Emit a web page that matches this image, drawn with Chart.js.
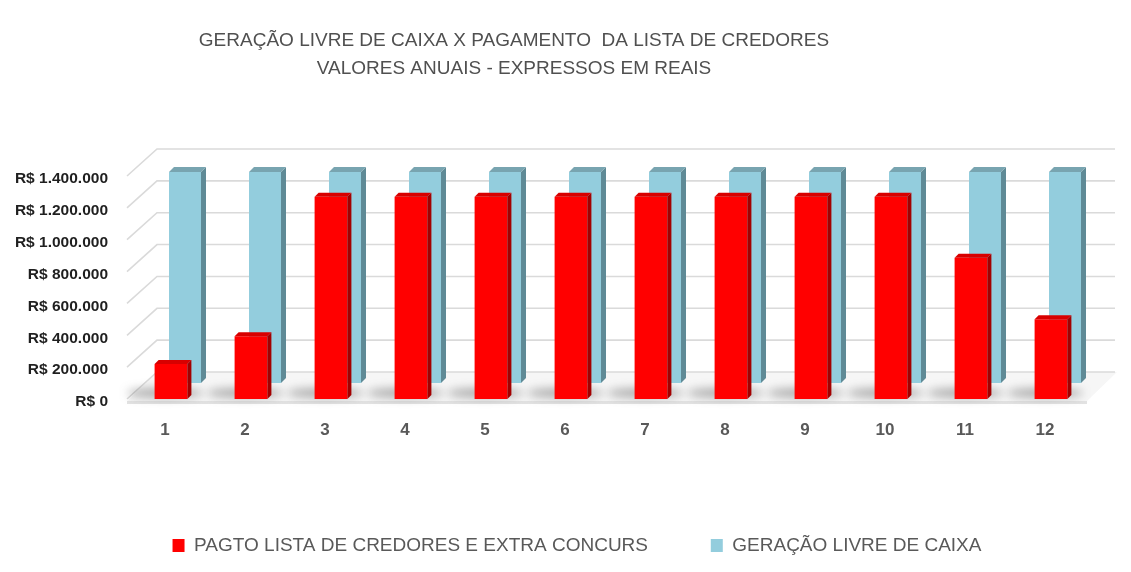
<!DOCTYPE html>
<html>
<head>
<meta charset="utf-8">
<script src="https://cdn.jsdelivr.net/npm/chart.js@4.4.0/dist/chart.umd.min.js"></script>
<style>
html,body{margin:0;padding:0;background:#ffffff;overflow:hidden;}
#c{display:block;}
</style>
</head>
<body>
<canvas id="c" width="1131" height="572"></canvas>
<script>
// ---- data ----
const categories = ['1','2','3','4','5','6','7','8','9','10','11','12'];
const pagtoCredores = [219000, 394000, 1270000, 1270000, 1270000, 1270000, 1270000, 1270000, 1270000, 1270000, 887000, 500000];
const geracaoCaixa = [1325000, 1325000, 1325000, 1325000, 1325000, 1325000, 1325000, 1325000, 1325000, 1325000, 1325000, 1325000];
const yTickValues = [0, 200000, 400000, 600000, 800000, 1000000, 1200000, 1400000];
const seriesNames = ['PAGTO LISTA DE CREDORES E EXTRA CONCURS', 'GERAÇÃO LIVRE DE CAIXA'];
const titleLines = ['GERAÇÃO LIVRE DE CAIXA X PAGAMENTO  DA LISTA DE CREDORES', 'VALORES ANUAIS - EXPRESSOS EM REAIS'];

function brl(v) {
  return 'R$ ' + String(Math.round(v)).replace(/\B(?=(\d{3})+(?!\d))/g, '.');
}

// 3D-look helpers (positions come from the library's bar elements / scales)
const BACK_DX = 30, BACK_DY = -27;    // depth of the back wall
const ROW_DX = 14, ROW_DY = -16;      // second (back) row of columns
const FACES = [
  {d: 4, side: '#a30000', top: '#d80000'},
  {d: 5, side: '#5f8a96', top: '#78a4b0'}
];

const fake3d = {
  id: 'fake3d',
  beforeDraw(chart) {
    // let the value-axis labels use the free space on the left
    chart.scales.y.left = 0;
  },
  beforeDatasetsDraw(chart) {
    const {ctx, chartArea: a, scales: {y}} = chart;
    ctx.save();
    // floor
    const y0 = y.getPixelForValue(0);
    ctx.beginPath();
    ctx.moveTo(a.left - 4, y0 + 2);
    ctx.lineTo(a.right - 4, y0 + 2);
    ctx.lineTo(a.right - 4 + BACK_DX, y0 + BACK_DY);
    ctx.lineTo(a.left - 4 + BACK_DX, y0 + BACK_DY);
    ctx.closePath();
    ctx.fillStyle = '#f6f6f6';
    ctx.fill();
    ctx.fillStyle = '#e3e3e3';
    ctx.fillRect(a.left - 4, y0 + 2, a.right - a.left, 3);
    // grid lines (back wall + side wall)
    ctx.strokeStyle = '#dadada';
    ctx.lineWidth = 1.6;
    yTickValues.forEach(v => {
      const py = y.getPixelForValue(v);
      ctx.beginPath();
      ctx.moveTo(a.left - 4, py);
      ctx.lineTo(a.left - 4 + BACK_DX, py + BACK_DY);
      ctx.lineTo(a.right - 4 + BACK_DX - 2, py + BACK_DY);
      ctx.stroke();
    });
    // shadows of the front columns on the floor
    const meta = chart.getDatasetMeta(0);
    ctx.filter = 'blur(5px)';
    meta.data.forEach(el => {
      const p = el.getProps(['x', 'base', 'width'], true);
      ctx.beginPath();
      ctx.ellipse(p.x - 6, p.base - 6, 38, 5, 0, 0, Math.PI * 2);
      ctx.fillStyle = 'rgba(70,70,70,0.42)';
      ctx.fill();
    });
    ctx.filter = 'none';
    ctx.restore();
  },
  beforeDatasetDraw(chart, args) {
    if (args.index === 1) {
      chart.ctx.save();
      chart.ctx.translate(ROW_DX, ROW_DY);
    }
  },
  afterDatasetDraw(chart, args) {
    const {ctx} = chart;
    const f = FACES[args.index];
    const d = f.d;
    args.meta.data.forEach(el => {
      const p = el.getProps(['x', 'y', 'base', 'width'], true);
      const l = p.x - p.width / 2, r = p.x + p.width / 2;
      // side
      ctx.beginPath();
      ctx.moveTo(r, p.y);
      ctx.lineTo(r + d, p.y - d);
      ctx.lineTo(r + d, p.base - d);
      ctx.lineTo(r, p.base);
      ctx.closePath();
      ctx.fillStyle = f.side;
      ctx.fill();
      // top
      ctx.beginPath();
      ctx.moveTo(l, p.y);
      ctx.lineTo(l + d, p.y - d);
      ctx.lineTo(r + d, p.y - d);
      ctx.lineTo(r, p.y);
      ctx.closePath();
      ctx.fillStyle = f.top;
      ctx.fill();
    });
    if (args.index === 1) ctx.restore();
  },
  afterDraw(chart) {
    const {ctx} = chart;
    ctx.save();
    ctx.fillStyle = '#505050';
    ctx.font = '19px "Liberation Sans", Arial, sans-serif';
    ctx.textAlign = 'center';
    ctx.textBaseline = 'alphabetic';
    ctx.fillText(titleLines[0], 514, 46);
    ctx.fillText(titleLines[1], 514, 74);
    ctx.restore();
  }
};

const chart = new Chart(document.getElementById('c'), {
  type: 'bar',
  data: {
    labels: categories,
    datasets: [
      {
        label: seriesNames[0],
        data: pagtoCredores,
        backgroundColor: '#ff0000',
        borderWidth: 0,
        grouped: false,
        barPercentage: 0.41,
        categoryPercentage: 1,
        clip: false
      },
      {
        label: seriesNames[1],
        data: geracaoCaixa,
        backgroundColor: '#93cddd',
        borderWidth: 0,
        grouped: false,
        barPercentage: 0.40,
        categoryPercentage: 1,
        clip: false
      }
    ]
  },
  options: {
    responsive: false,
    animation: false,
    devicePixelRatio: 1,
    layout: {padding: {left: 23, right: 0, top: 176, bottom: 7}},
    scales: {
      x: {
        type: 'category',
        offset: true,
        grid: {display: false},
        border: {display: false},
        ticks: {
          padding: 13,
          labelOffset: -6,
          color: '#595959',
          font: {family: '"Liberation Sans", Arial, sans-serif', size: 17, weight: 'bold'}
        },
        afterFit(s) { s.height = 127; }
      },
      y: {
        position: 'left',
        min: 0,
        max: 1400000,
        grid: {display: false},
        border: {display: false},
        afterBuildTicks(s) { s.ticks = yTickValues.map(v => ({value: v})); },
        ticks: {
          padding: 15,
          labelOffset: 3,
          color: '#1f1f1f',
          font: {family: '"Liberation Sans", Arial, sans-serif', size: 15.5, weight: 'bold'},
          callback: v => brl(v)
        },
        afterFit(s) { s.width = 108; }
      },
      yR: {
        position: 'right',
        display: true,
        grid: {display: false},
        border: {display: false},
        ticks: {display: false},
        afterFit(s) { s.width = 40; }
      }
    },
    plugins: {
      title: {display: false},
      tooltip: {enabled: false},
      legend: {
        position: 'bottom',
        labels: {
          boxWidth: 12,
          boxHeight: 13,
          padding: 10,
          color: '#595959',
          font: {family: '"Liberation Sans", Arial, sans-serif', size: 19},
          generateLabels(chart) {
            const items = Chart.defaults.plugins.legend.labels.generateLabels(chart);
            items.forEach((it, i) => {
              it.lineWidth = 0;
              if (i === 0) it.text = it.text + '          ';
            });
            return items;
          }
        }
      }
    }
  },
  plugins: [fake3d]
});
</script>
</body>
</html>
